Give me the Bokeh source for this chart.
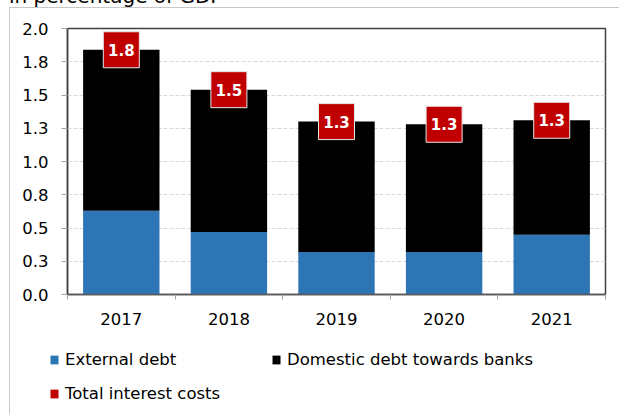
from bokeh.plotting import figure
from bokeh.layouts import column
from bokeh.models import Range1d, FixedTicker, Legend, LegendItem, ColumnDataSource, Div
from bokeh.core.properties import value
from bokeh.embed import file_html
from bokeh.resources import INLINE

title_text = "in percentage of GDP"
years = ["2017", "2018", "2019", "2020", "2021"]
external_debt = [0.63, 0.47, 0.32, 0.32, 0.45]
total_interest = [1.84, 1.54, 1.30, 1.28, 1.31]
domestic_debt = [round(t - e, 3) for t, e in zip(total_interest, external_debt)]
total_labels = ["1.8", "1.5", "1.3", "1.3", "1.3"]
y_ticks = [0.0, 0.25, 0.5, 0.75, 1.0, 1.25, 1.5, 1.75, 2.0]
y_tick_labels = ["0.0", "0.3", "0.5", "0.8", "1.0", "1.3", "1.5", "1.8", "2.0"]
series_names = ["External debt", "Domestic debt towards banks", "Total interest costs"]

FONT = "DejaVu Sans"
BLUE = "#2E75B6"
RED = "#C00000"

xs = list(range(len(years)))
src = ColumnDataSource(dict(x=xs, ext=external_debt, tot=total_interest,
                            dom=domestic_debt, lab=total_labels))

p = figure(width=609, height=332, output_backend="svg", toolbar_location=None,
           x_range=Range1d(-0.5, len(years) - 0.5), y_range=Range1d(0, 2.0),
           min_border_left=57, min_border_right=14, min_border_top=20,
           min_border_bottom=46)
p.frame_align = False

p.vbar(x="x", bottom=0, top="ext", width=0.71, source=src,
       fill_color=BLUE, line_color=None)
p.vbar(x="x", bottom="ext", top="tot", width=0.71, source=src,
       fill_color="black", line_color=None)
p.rect(x="x", y="tot", width=36, height=36, width_units="screen",
       height_units="screen", source=src, fill_color=RED,
       line_color="#e6e6e6", line_width=1)
p.text(x="x", y="tot", text="lab", source=src, text_color="white",
       text_font=value(FONT), text_font_size="15px", text_font_style="bold",
       text_align="center", text_baseline="middle")

# frame
p.outline_line_color = "#404040"
p.outline_line_width = 1.5

# y axis
p.yaxis.ticker = FixedTicker(ticks=y_ticks)
p.yaxis.major_label_overrides = {t: l for t, l in zip(y_ticks, y_tick_labels)}
p.yaxis.axis_line_color = "#404040"
p.yaxis.axis_line_width = 1.5
p.yaxis.major_tick_out = 6
p.yaxis.major_tick_in = 0
p.yaxis.major_tick_line_color = "#a6a6a6"
p.yaxis.minor_tick_line_color = None
p.yaxis.major_label_standoff = 13
p.yaxis.major_label_text_font = FONT
p.yaxis.major_label_text_font_size = "16.5px"
p.yaxis.major_label_text_color = "black"

# x axis
p.xaxis.ticker = FixedTicker(ticks=xs, minor_ticks=[i - 0.5 for i in range(len(years) + 1)])
p.xaxis.major_label_overrides = {i: y for i, y in enumerate(years)}
p.xaxis.axis_line_color = "#595959"
p.xaxis.axis_line_width = 1.5
p.xaxis.major_tick_line_color = None
p.xaxis.major_tick_out = 0
p.xaxis.major_tick_in = 0
p.xaxis.minor_tick_out = 5
p.xaxis.minor_tick_in = 0
p.xaxis.minor_tick_line_color = "#a6a6a6"
p.xaxis.major_label_standoff = 13
p.xaxis.major_label_text_font = FONT
p.xaxis.major_label_text_font_size = "16.5px"
p.xaxis.major_label_text_color = "black"

# grid
p.xgrid.grid_line_color = None
p.ygrid.ticker = FixedTicker(ticks=y_ticks[1:-1])
p.ygrid.grid_line_color = "#d9d9d9"
p.ygrid.grid_line_dash = "4 2"

# legend panel (hidden renderers; only their legend swatches show)
lg = figure(width=609, height=74, output_backend="svg", toolbar_location=None,
            x_range=Range1d(-0.5, len(years) - 0.5), y_range=Range1d(0, 2.0),
            x_axis_location=None, y_axis_location=None,
            min_border_left=0, min_border_right=0, min_border_top=0,
            min_border_bottom=0)
lg.frame_align = False
lg.outline_line_color = None
lg.grid.visible = False
d_ext = lg.vbar(x="x", top="ext", width=0.5, source=src, fill_color=BLUE,
                line_color=None, visible=False)
d_dom = lg.vbar(x="x", top="dom", width=0.5, source=src, fill_color="black",
                line_color=None, visible=False)
d_tot = lg.vbar(x="x", top="tot", width=0.5, source=src, fill_color=RED,
                line_color=None, visible=False)

legend = Legend(items=[
    LegendItem(label=series_names[0], renderers=[d_ext]),
    LegendItem(label=series_names[1], renderers=[d_dom]),
    LegendItem(label=series_names[2], renderers=[d_tot]),
], location=(39, 8), orientation="horizontal", ncols=2,
    padding=0, margin=0, spacing=8, glyph_width=10, glyph_height=11,
    label_standoff=6, label_width=198, label_height=26,
    label_text_font=FONT, label_text_font_size="16.5px", label_text_color="black",
    border_line_color=None, background_fill_alpha=0, inactive_fill_alpha=0)
lg.add_layout(legend, "center")

title = Div(text=('<div style="position:relative; top:-14px; font-family:\'DejaVu Sans\';'
                  ' font-size:20px; line-height:20px; white-space:nowrap; color:black;">'
                  + title_text + '</div>'),
            width=609, height=7, margin=0, styles={"overflow": "hidden"})

inner = column(p, lg, spacing=0)
inner.styles = {"border-left": "1px solid #c8c8c8", "border-top": "1px solid #c8c8c8"}
layout = column(title, inner, spacing=0)
layout.styles = {"margin-left": "9px"}

open("out.html", "w").write(file_html(layout, INLINE))
